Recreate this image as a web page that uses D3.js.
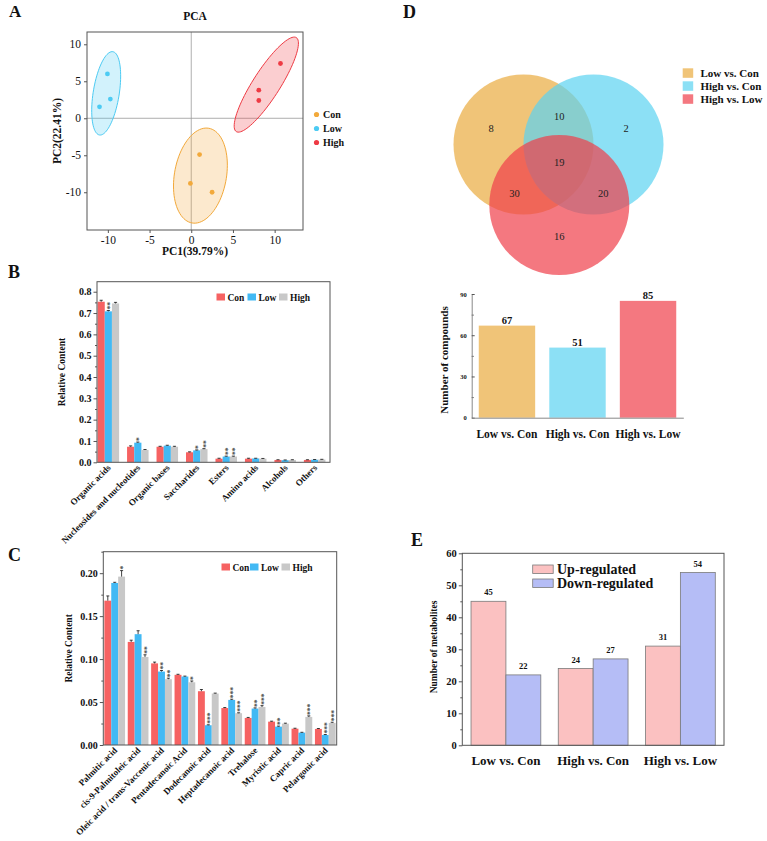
<!DOCTYPE html>
<html><head><meta charset="utf-8">
<script src="https://cdn.jsdelivr.net/npm/d3@7"></script>
<style>body{margin:0;background:#fff}</style>
</head><body>
<svg id="c" width="767" height="841" xmlns="http://www.w3.org/2000/svg"></svg>
<script>
const FONT = "'Liberation Serif','Times New Roman',serif";

// ---------- Panel A data (PCA) ----------
const pcaGroups = ["Con", "Low", "High"];
const pcaColors = ["#F2A93B", "#4CCBF3", "#EE3B44"];
const pcaConX = [1.0, -0.1, 2.5];
const pcaConY = [-4.9, -8.8, -10.0];
const pcaLowX = [-10.05, -9.7, -11.0];
const pcaLowY = [6.0, 2.6, 1.55];
const pcaHighX = [10.7, 8.1, 8.1];
const pcaHighY = [7.4, 3.8, 2.4];
// ellipse: centre x, centre y, major vector (dx,dy), minor vector (dx,dy), data units
const pcaEllipseCon = [1.1, -7.75, 1.0, 6.4, 3.07, -0.6];
const pcaEllipseLow = [-10.2, 3.37, 0.8, 5.63, 1.54, -0.28];
const pcaEllipseHigh = [9.0, 4.55, 3.6, 6.35, 1.37, -0.98];
const pcaTicks = [-10, -5, 0, 5, 10];

// ---------- Panel B data ----------
const bCats = ["Organic acids", "Nucleosides and nucleotides", "Organic bases", "Saccharides", "Esters", "Amino acids", "Alcohols", "Others"];
const bSeries = ["Con", "Low", "High"];
const bCon  = [0.753, 0.073, 0.073, 0.047, 0.017, 0.017, 0.011, 0.011];
const bLow  = [0.708, 0.092, 0.078, 0.056, 0.027, 0.018, 0.010, 0.012];
const bHigh = [0.745, 0.058, 0.073, 0.062, 0.027, 0.017, 0.011, 0.013];
const bConErr  = [0.007, 0.004, 0.002, 0.002, 0.002, 0.002, 0.001, 0.001];
const bLowErr  = [0.004, 0.003, 0.002, 0.002, 0.002, 0.001, 0.001, 0.001];
const bHighErr = [0.005, 0.002, 0.002, 0.002, 0.002, 0.001, 0.001, 0.001];
const bLowSig  = ["**", "*", "", "*", "**", "", "", ""];
const bHighSig = ["", "", "", "**", "**", "", "", ""];
const barColors = ["#F66262", "#42B9F4", "#C8C8C8"];

// ---------- Panel C data ----------
const cCats = ["Palmitic acid", "cis-9-Palmitoleic acid", "Oleic acid / trans-Vaccenic acid", "Pentadecanoic Acid", "Dodecanoic acid", "Heptadecanoic acid", "Trehalose", "Myristic acid", "Capric acid", "Pelargonic acid"];
const cCon  = [0.168, 0.120, 0.095, 0.0817, 0.0626, 0.043, 0.0315, 0.0272, 0.019, 0.0187];
const cLow  = [0.1886, 0.129, 0.0855, 0.0797, 0.023, 0.0525, 0.0424, 0.0214, 0.0144, 0.0117];
const cHigh = [0.196, 0.1025, 0.0766, 0.073, 0.0599, 0.037, 0.0443, 0.0249, 0.0327, 0.0257];
const cConErr  = [0.0055, 0.002, 0.0015, 0.0006, 0.002, 0.0006, 0.0006, 0.0005, 0.0005, 0.0005];
const cLowErr  = [0.0008, 0.004, 0.0012, 0.0005, 0.0005, 0.0008, 0.0008, 0.0006, 0.0004, 0.0005];
const cHighErr = [0.007, 0.0025, 0.0012, 0.0015, 0.0005, 0.0005, 0.0015, 0.0005, 0.0012, 0.0008];
const cLowSig  = ["", "", "**", "", "***", "***", "**", "**", "", "***"];
const cHighSig = ["*", "**", "**", "*", "", "***", "***", "", "***", "***"];

// ---------- Panel D data ----------
const vennSets = ["Low vs. Con", "High vs. Con", "High vs. Low"];
const vennColors = ["#EAAB3E", "#5BD3F1", "#EF3E4A"];
const vennRegionLabels = ["8", "10", "2", "19", "30", "20", "16"];
const dBarValues = [67, 51, 85];
const dTicks = [0, 30, 60, 90];

// ---------- Panel E data ----------
const eCats = ["Low vs. Con", "High vs. Con", "High vs. Low"];
const eSeries = ["Up-regulated", "Down-regulated"];
const eUp = [45, 24, 31];
const eDown = [22, 27, 54];
const eColors = ["#FBC1C1", "#B5BDF6"];

const svg = d3.select("#c");
svg.append("rect").attr("width", 767).attr("height", 841).attr("fill", "#fff");

function label(g, x, y, s, size, weight, anchor) {
  return g.append("text").attr("x", x).attr("y", y).text(s)
    .attr("font-family", FONT).attr("font-size", size)
    .attr("font-weight", weight || "bold").attr("text-anchor", anchor || "start").attr("fill", "#111");
}
function styleAxis(sel, size, weight) {
  sel.selectAll("path").attr("stroke", "#555");
  sel.selectAll("line").attr("stroke", "#555");
  sel.selectAll("text").attr("font-family", FONT).attr("font-size", size).attr("font-weight", weight).attr("fill", "#111");
}

// panel letters
label(svg, 9, 17, "A", 17);
label(svg, 8, 278, "B", 18);
label(svg, 8, 561, "C", 18);
label(svg, 403, 18, "D", 18);
label(svg, 411, 546, "E", 18);

// ================= Panel A =================
(function () {
  const g = svg.append("g");
  const x = d3.scaleLinear().domain([-12.5, 13.4]).range([87, 303]);
  const y = d3.scaleLinear().domain([-15.1, 11.66]).range([230, 32]);
  g.append("line").attr("x1", x(0)).attr("x2", x(0)).attr("y1", y.range()[1]).attr("y2", y.range()[0]).attr("stroke", "#999").attr("stroke-width", 0.8);
  g.append("line").attr("x1", x.range()[0]).attr("x2", x.range()[1]).attr("y1", y(0)).attr("y2", y(0)).attr("stroke", "#999").attr("stroke-width", 0.8);
  const ells = [pcaEllipseCon, pcaEllipseLow, pcaEllipseHigh];
  const xs = [pcaConX, pcaLowX, pcaHighX];
  const ys = [pcaConY, pcaLowY, pcaHighY];
  const line = d3.line();
  ells.forEach((e, i) => {
    const pts = d3.range(0, 361, 4).map(d => {
      const t = d * Math.PI / 180;
      return [x(e[0] + e[2] * Math.cos(t) + e[4] * Math.sin(t)), y(e[1] + e[3] * Math.cos(t) + e[5] * Math.sin(t))];
    });
    g.append("path").attr("d", line(pts) + "Z").attr("fill", pcaColors[i]).attr("fill-opacity", 0.25)
      .attr("stroke", pcaColors[i]).attr("stroke-width", 1);
  });
  xs.forEach((arr, i) => {
    arr.forEach((v, j) => {
      g.append("circle").attr("cx", x(v)).attr("cy", y(ys[i][j])).attr("r", 2.4).attr("fill", pcaColors[i]);
    });
  });
  g.append("rect").attr("x", 87).attr("y", 32).attr("width", 216).attr("height", 198).attr("fill", "none").attr("stroke", "#555").attr("stroke-width", 1);
  const fmt = d => String(d);
  const ax = g.append("g").attr("transform", "translate(0,230)").call(d3.axisBottom(x).tickValues(pcaTicks).tickFormat(fmt).tickSize(3).tickPadding(3).tickSizeOuter(0));
  styleAxis(ax, 11.5, "normal"); ax.select("path").remove();
  const ay = g.append("g").attr("transform", "translate(87,0)").call(d3.axisLeft(y).tickValues(pcaTicks).tickFormat(fmt).tickSize(3).tickPadding(3).tickSizeOuter(0));
  styleAxis(ay, 11.5, "normal"); ay.select("path").remove();
  label(g, 195, 20, "PCA", 11.5, "bold", "middle");
  label(g, 195, 255, "PC1(39.79%)", 11.5, "bold", "middle");
  label(g, 0, 0, "PC2(22.41%)", 11.5, "bold", "middle").attr("transform", "translate(61,131) rotate(-90)");
  pcaGroups.forEach((s, i) => {
    g.append("circle").attr("cx", 316.5).attr("cy", 114.5 + i * 14).attr("r", 2.6).attr("fill", pcaColors[i]);
    label(g, 323, 118 + i * 14, s, 10, "bold");
  });
})();

// ================= grouped bars (B & C) =================
function groupedBars(cfg) {
  const g = svg.append("g");
  const x0 = d3.scaleBand().domain(cfg.cats).range(cfg.xr).paddingInner(cfg.pi).paddingOuter(cfg.po);
  const x1 = d3.scaleBand().domain(bSeries).range([0, x0.bandwidth()]);
  const y = d3.scaleLinear().domain(cfg.yd).range(cfg.yr);
  const vals = [cfg.con, cfg.low, cfg.high];
  const errs = [cfg.conErr, cfg.lowErr, cfg.highErr];
  const sigs = [null, cfg.lowSig, cfg.highSig];
  cfg.cats.forEach((c, i) => {
    bSeries.forEach((s, k) => {
      const v = vals[k][i], e = errs[k][i];
      const bx = x0(c) + x1(s), bw = x1.bandwidth();
      g.append("rect").attr("x", bx).attr("y", y(v)).attr("width", bw).attr("height", y(0) - y(v)).attr("fill", barColors[k]);
      const cx = bx + bw / 2;
      g.append("line").attr("x1", cx).attr("x2", cx).attr("y1", y(v)).attr("y2", y(v + e)).attr("stroke", "#111").attr("stroke-width", 0.8);
      g.append("line").attr("x1", cx - bw * 0.22).attr("x2", cx + bw * 0.22).attr("y1", y(v + e)).attr("y2", y(v + e)).attr("stroke", "#111").attr("stroke-width", 0.8);
      if (sigs[k] && sigs[k][i]) {
        g.append("text").attr("transform", `translate(${cx},${y(v + e) - 1}) rotate(-90)`)
          .attr("dy", "0.62em").attr("text-anchor", "start").text(sigs[k][i])
          .attr("font-family", FONT).attr("font-size", 7.5).attr("font-weight", "bold").attr("fill", "#444");
      }
    });
  });
  const [xa, xb] = cfg.frameX, [ya, yb] = [cfg.yr[1], cfg.yr[0]];
  g.append("rect").attr("x", xa).attr("y", ya).attr("width", xb - xa).attr("height", yb - ya).attr("fill", "none").attr("stroke", "#555").attr("stroke-width", 1);
  const minor = g.append("g").attr("transform", `translate(${xa},0)`).call(d3.axisLeft(y).tickValues(cfg.minor).tickSize(2).tickFormat(""));
  styleAxis(minor, 9, "bold"); minor.select("path").remove();
  const ay = g.append("g").attr("transform", `translate(${xa},0)`).call(d3.axisLeft(y).tickValues(cfg.ticks).tickFormat(d3.format(cfg.fmt)).tickSize(3.5).tickPadding(2));
  styleAxis(ay, 10, "bold"); ay.select("path").remove();
  const ax = g.append("g").attr("transform", `translate(0,${yb})`).call(d3.axisBottom(x0).tickSize(0).tickPadding(0));
  ax.select("path").remove();
  ax.selectAll("text").attr("font-family", FONT).attr("font-size", cfg.xfs).attr("font-weight", "bold").attr("fill", "#111")
    .attr("text-anchor", "end").attr("dy", 0).attr("transform", "translate(3,6) rotate(-45)");
  label(g, 0, 0, "Relative Content", 9.5, "bold", "middle").attr("transform", `translate(${cfg.ylabX},${(ya + yb) / 2}) rotate(-90)`);
  cfg.legend.forEach((lx, k) => {
    g.append("rect").attr("x", lx).attr("y", cfg.legY - 4.5).attr("width", 8.5).attr("height", 7).attr("fill", barColors[k]);
    label(g, lx + 11, cfg.legY + 2.5, bSeries[k], 9.5, "bold");
  });
}

groupedBars({
  cats: bCats, con: bCon, low: bLow, high: bHigh, conErr: bConErr, lowErr: bLowErr, highErr: bHighErr,
  lowSig: bLowSig, highSig: bHighSig,
  xr: [97, 326], pi: 0.27, po: 0.02, frameX: [97, 330],
  yd: [0, 0.847], yr: [462.3, 281.7],
  ticks: d3.range(0, 0.81, 0.1), minor: d3.range(0.05, 0.81, 0.1), fmt: ".1f",
  xfs: 9, ylabX: 65, legend: [216.5, 247.5, 279], legY: 298
});

groupedBars({
  cats: cCats, con: cCon, low: cLow, high: cHigh, conErr: cConErr, lowErr: cLowErr, highErr: cHighErr,
  lowSig: cLowSig, highSig: cHighSig,
  xr: [103.3, 336.7], pi: 0.115, po: 0.045, frameX: [103.3, 336.7],
  yd: [0, 0.225], yr: [745, 551.7],
  ticks: [0, 0.05, 0.1, 0.15, 0.2], minor: [0.025, 0.075, 0.125, 0.175, 0.225], fmt: ".2f",
  xfs: 9, ylabX: 72, legend: [221.5, 250, 281.5], legY: 568
});

// ================= Panel D: Venn =================
(function () {
  const g = svg.append("g");
  const circ = [[523.5, 144.5], [593.5, 144.5], [559.3, 205]];
  circ.forEach((c, i) => {
    g.append("circle").attr("cx", c[0]).attr("cy", c[1]).attr("r", 70).attr("fill", vennColors[i]).attr("fill-opacity", 0.7);
  });
  const pos = [[491, 132], [559.3, 119.5], [626, 132], [559.3, 166], [514.5, 197], [603.3, 197], [559.3, 240]];
  vennRegionLabels.forEach((t, i) => label(g, pos[i][0], pos[i][1], t, 10.5, "normal", "middle").attr("fill", "#222"));
  vennSets.forEach((s, i) => {
    g.append("rect").attr("x", 682.7).attr("y", 68.3 + i * 13).attr("width", 10.5).attr("height", 9.5).attr("fill", vennColors[i]).attr("fill-opacity", 0.7);
    label(g, 700.5, 77 + i * 13, s, 11, "bold");
  });

  const x = d3.scaleBand().domain(vennSets).range([471.7, 683.3]).paddingInner(0.2).paddingOuter(0.1);
  const y = d3.scaleLinear().domain([0, 90]).range([417.7, 294]);
  vennSets.forEach((s, i) => {
    g.append("rect").attr("x", x(s)).attr("y", y(dBarValues[i])).attr("width", x.bandwidth()).attr("height", y(0) - y(dBarValues[i]))
      .attr("fill", vennColors[i]).attr("fill-opacity", 0.7);
    label(g, x(s) + x.bandwidth() / 2, y(dBarValues[i]) - 1.5, String(dBarValues[i]), 10.5, "bold", "middle");
  });
  const minor = g.append("g").attr("transform", "translate(471.7,0)").call(d3.axisLeft(y).tickValues([15, 45, 75]).tickSize(-2).tickFormat(""));
  styleAxis(minor, 6, "bold"); minor.select("path").remove();
  const ay = g.append("g").attr("transform", "translate(471.7,0)").call(d3.axisLeft(y).tickValues(dTicks).tickSize(-3).tickPadding(5).tickSizeOuter(0));
  styleAxis(ay, 6.5, "bold");
  ay.select("path").attr("stroke", "#888");
  const ax = g.append("g").attr("transform", "translate(0,417.7)").call(d3.axisBottom(x).tickSize(0).tickPadding(12).tickSizeOuter(0));
  styleAxis(ax, 11.5, "bold");
  ax.select("path").attr("stroke", "#888");
  label(g, 0, 0, "Number of compounds", 11, "bold", "middle").attr("transform", "translate(448,360) rotate(-90)");
})();

// ================= Panel E =================
(function () {
  const g = svg.append("g");
  const x0 = d3.scaleBand().domain(eCats).range([462.3, 724]).paddingInner(0.2).paddingOuter(0.1);
  const x1 = d3.scaleBand().domain(eSeries).range([0, x0.bandwidth()]);
  const y = d3.scaleLinear().domain([0, 60]).range([745.3, 553.3]);
  const vals = [eUp, eDown];
  eCats.forEach((c, i) => {
    eSeries.forEach((s, k) => {
      const v = vals[k][i];
      g.append("rect").attr("x", x0(c) + x1(s)).attr("y", y(v)).attr("width", x1.bandwidth()).attr("height", y(0) - y(v))
        .attr("fill", eColors[k]).attr("stroke", "#7a7a7a").attr("stroke-width", 0.8);
      label(g, x0(c) + x1(s) + x1.bandwidth() / 2, y(v) - 6, String(v), 8.5, "bold", "middle");
    });
  });
  g.append("rect").attr("x", 462.3).attr("y", 553.3).attr("width", 724 - 462.3).attr("height", 192).attr("fill", "none").attr("stroke", "#555").attr("stroke-width", 1);
  const minor = g.append("g").attr("transform", "translate(462.3,0)").call(d3.axisLeft(y).tickValues(d3.range(5, 60, 10)).tickSize(2).tickFormat(""));
  styleAxis(minor, 9, "bold"); minor.select("path").remove();
  const ay = g.append("g").attr("transform", "translate(462.3,0)").call(d3.axisLeft(y).tickValues(d3.range(0, 61, 10)).tickSize(3.5).tickPadding(2));
  styleAxis(ay, 10.5, "bold"); ay.select("path").remove();
  const ax = g.append("g").attr("transform", "translate(0,745.3)").call(d3.axisBottom(x0).tickSize(0).tickPadding(10));
  styleAxis(ax, 13, "bold"); ax.select("path").remove();
  label(g, 0, 0, "Number of metabolites", 9.5, "bold", "middle").attr("transform", "translate(437,647) rotate(-90)");
  eSeries.forEach((s, k) => {
    g.append("rect").attr("x", 532.7).attr("y", 565 + k * 14).attr("width", 20.5).attr("height", 8.5).attr("fill", eColors[k]).attr("stroke", "#7a7a7a").attr("stroke-width", 0.8);
    label(g, 557, 573.5 + k * 14, s, 14, "bold");
  });
})();
</script>
</body></html>
